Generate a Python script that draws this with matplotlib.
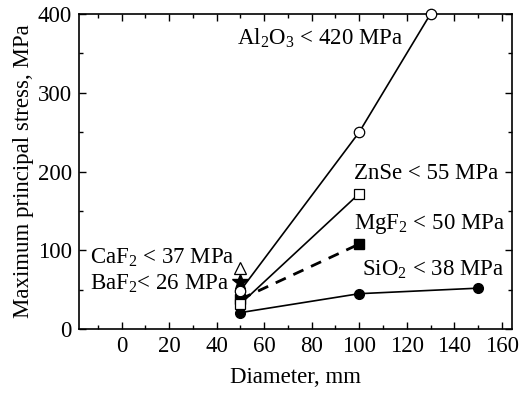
import matplotlib
matplotlib.use("Agg")
import matplotlib.pyplot as plt
from matplotlib.ticker import MultipleLocator

plt.rcParams["font.family"] = ["Liberation Serif", "DejaVu Serif"]
plt.rcParams["mathtext.fontset"] = "custom"
plt.rcParams["mathtext.rm"] = "Liberation Serif"
plt.rcParams["mathtext.it"] = "Liberation Serif:italic"

# Maximum principal stress (MPa) versus window diameter (mm)
al2o3_d = [50, 100, 130]
al2o3_s = [49, 250, 400]
znse_d = [50, 100]
znse_s = [32, 172]
mgf2_d = [50, 100]
mgf2_s = [38, 108]
sio2_d = [50, 100, 150]
sio2_s = [21, 45, 52]
caf2_d = [50]
caf2_s = [78]
baf2_d = [50]
baf2_s = [60]

labels = {
    "Al2O3": r"Al$_2$O$_3$ < 420 MPa",
    "ZnSe": "ZnSe < 55 MPa",
    "MgF2": r"MgF$_2$ < 50 MPa",
    "SiO2": r"SiO$_2$ < 38 MPa",
    "CaF2": r"CaF$_2$ < 37 MPa",
    "BaF2": r"BaF$_2$< 26 MPa",
}

fig = plt.figure(figsize=(5.19, 3.98), dpi=100)
ax = fig.add_axes([0.152, 0.173, 0.8345, 0.792])

lw = 1.2
ax.plot(sio2_d, sio2_s, "-", color="black", lw=lw, marker="o", ms=7,
        mfc="black", mec="black", zorder=3)
ax.plot(mgf2_d, mgf2_s, "--", color="black", lw=2.0, dashes=(4, 3),
        marker="s", ms=6.5, mfc="black", mec="black", zorder=4)
ax.plot(znse_d, znse_s, "-", color="black", lw=lw, marker="s", ms=6.5,
        mfc="white", mec="black", mew=0.9, zorder=5)
ax.plot(caf2_d, caf2_s, "^", ms=8, mfc="white", mec="black", mew=0.9, zorder=5)
ax.plot(baf2_d, baf2_s, "*", ms=12, mfc="black", mec="black", zorder=6)
ax.plot(al2o3_d, al2o3_s, "-", color="black", lw=lw, marker="o", ms=7.5,
        mfc="white", mec="black", mew=0.9, zorder=7, clip_on=False)

fs = 16.5
ax.text(48.5, 369, labels["Al2O3"], fontsize=fs, va="center", ha="left")
ax.text(98, 198, labels["ZnSe"], fontsize=fs, va="center", ha="left")
ax.text(98, 133, labels["MgF2"], fontsize=fs, va="center", ha="left")
ax.text(101, 75, labels["SiO2"], fontsize=fs, va="center", ha="left")
ax.text(-13.5, 91, labels["CaF2"], fontsize=fs, va="center", ha="left")
ax.text(-13.5, 57, labels["BaF2"], fontsize=fs, va="center", ha="left")

ax.set_xlim(-18, 164.3)
ax.set_ylim(0, 400)
ax.xaxis.set_major_locator(MultipleLocator(20))
ax.xaxis.set_minor_locator(MultipleLocator(10))
ax.yaxis.set_major_locator(MultipleLocator(100))
ax.yaxis.set_minor_locator(MultipleLocator(50))
ax.set_xticks(range(0, 161, 20))
ax.tick_params(which="both", direction="in", top=True, right=True,
               labelsize=fs, width=1.0)
ax.tick_params(which="major", length=5, pad=5)
ax.tick_params(which="minor", length=3)
for s in ax.spines.values():
    s.set_linewidth(1.2)

ax.set_xlabel("Diameter, mm", fontsize=fs, labelpad=7)
ax.set_ylabel("Maximum principal stress, MPa", fontsize=fs, labelpad=3)

fig.savefig("out.png", dpi=100)
